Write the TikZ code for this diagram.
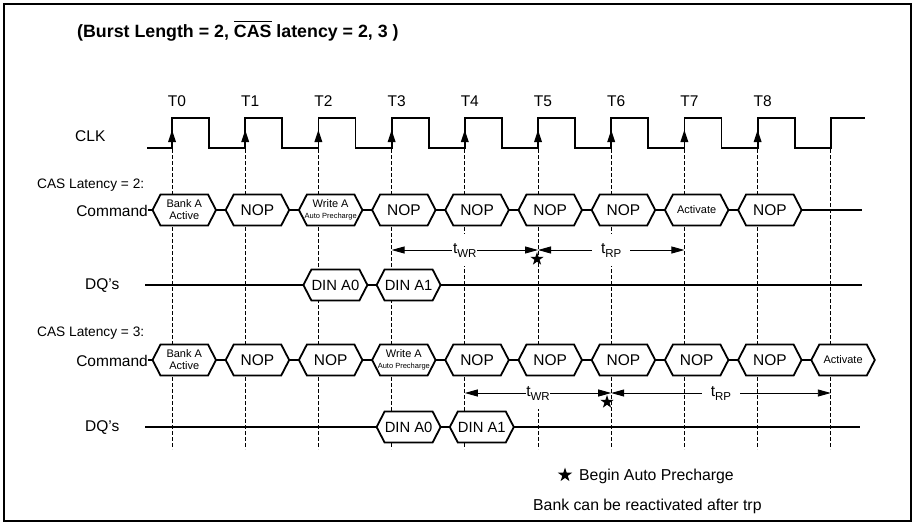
\documentclass[tikz,border=0pt]{standalone}
\usepackage{fontspec}
\setmainfont{Liberation Sans}
\usetikzlibrary{arrows.meta,shapes.geometric}
\newcommand\hexbox[6]{%
  \draw[sig,fill=white] (#2,#4) -- ({#2+8},{#4-15.5}) -- ({#3-8},{#4-15.5}) -- (#3,#4) -- ({#3-8},{#4+15.5}) -- ({#2+8},{#4+15.5}) -- cycle;
  \node[#5] (#1) at ({(#2+#3)/2},#4) {#6};
  \coordinate (#1-w) at (#2,#4);
  \coordinate (#1-e) at (#3,#4);
}
\newcommand\ovlbar[1]{\setbox0\hbox{#1}\rlap{\rule[\dimexpr\ht0+3.2pt\relax]{\wd0}{1.3pt}}\box0\relax}
\begin{document}
\begin{tikzpicture}[x=1pt,y=-1pt,
  sig/.style={line width=1.8pt, line join=miter},
  gridline/.style={line width=0.8pt, dash pattern=on 3.5pt off 2.5pt},
  dimline/.style={line width=0.9pt, {Triangle[length=13pt,width=7pt]}-{Triangle[length=13pt,width=7pt]}},
  lbl/.style={font=\fontsize{15.5}{18}\selectfont, inner sep=0pt},
  leg/.style={font=\fontsize{15.8}{18}\selectfont, inner sep=0pt},
  mid/.style={font=\fontsize{13.7}{16}\selectfont, inner sep=0pt},
  bx/.style={font=\fontsize{15.5}{18}\selectfont, inner sep=0pt},
  din/.style={font=\fontsize{14.8}{18}\selectfont, inner sep=0pt},
  bxs/.style={font=\fontsize{11}{12}\selectfont, inner sep=0pt, align=center},
  tlab/.style={font=\fontsize{15.5}{18}\selectfont, fill=white, inner ysep=9pt},
  starmark/.style={star, star points=5, star point ratio=2.6, fill=black, minimum size=14pt, inner sep=0pt},
]
\useasboundingbox (0,0) rectangle (917,525);
\draw[line width=1.6pt] (4,4) rectangle (911,521);

% title
\node[font=\bfseries\fontsize{17.8}{20}\selectfont, anchor=base west, inner sep=0pt] (title) at (77,37.5)
  {(Burst Length = 2, \ovlbar{CAS} latency = 2, 3 )};

% dashed clock reference lines
\foreach \i in {0,...,9}
  \draw[gridline] ({172+73.2*\i},149) -- ({172+73.2*\i},449);

% clock
\node[lbl, anchor=west] (clk) at (75,136) {CLK};
\draw[sig] (147,148) foreach \i in {0,...,8} { -- ({172+73.2*\i},148) -- ({172+73.2*\i},118) -- ({209+73.2*\i},118) -- ({209+73.2*\i},148) } -- (830.8,148) -- (830.8,118) -- (865,118);
\foreach \i in {0,...,8} {
  \fill ({172+73.2*\i},130) -- ++(-4,12) -- ++(8,0) -- cycle;
  \node[lbl] (T\i) at ({177+73.2*\i},101) {T\i};
}

% ---------- CAS latency = 2 ----------
\node[mid, anchor=west] (cas2) at (37,185) {CAS Latency = 2:};
\node[lbl, anchor=east] (cmd1) at (148,211) {Command};
\hexbox{p0}{152.5}{216.0}{210}{bxs}{Bank A\\Active}
\hexbox{p1}{225.7}{289.2}{210}{bx}{NOP}
\hexbox{p2}{298.9}{362.4}{210}{bxs}{Write A\\[-1pt]{\fontsize{7.5}{8}\selectfont Auto Precharge}}
\hexbox{p3}{372.1}{435.6}{210}{bx}{NOP}
\hexbox{p4}{445.3}{508.8}{210}{bx}{NOP}
\hexbox{p5}{518.5}{582.0}{210}{bx}{NOP}
\hexbox{p6}{591.7}{655.2}{210}{bx}{NOP}
\hexbox{p7}{664.9}{728.4}{210}{bxs}{Activate}
\hexbox{p8}{738.1}{801.6}{210}{bx}{NOP}
\coordinate (p-end) at (862,210);
\draw[sig] (p0-w -| cmd1.east) -- (p0-w);
\foreach \a/\b in {p0/p1,p1/p2,p2/p3,p3/p4,p4/p5,p5/p6,p6/p7,p7/p8}
  \draw[sig] (\a-e) -- (\b-w);
\draw[sig] (p8-e) -- (p-end);

\node[lbl, anchor=west] (dq1) at (85,286) {DQ’s};
\coordinate (dq1-start) at (145,285);
\coordinate (dq1-end) at (862,285);
\hexbox{da0}{303.4}{367.4}{285}{din}{DIN A0}
\hexbox{da1}{376.6}{440.6}{285}{din}{DIN A1}
\draw[sig] (dq1-start) -- (da0-w);
\draw[sig] (da0-e) -- (da1-w);
\draw[sig] (da1-e) -- (dq1-end);

\coordinate (wr1a) at (391.6,250);
\coordinate (wr1b) at (538,250);
\coordinate (rp1b) at (684.4,250);
\draw[dimline] (wr1a) -- (wr1b);
\draw[dimline] (wr1b) -- (rp1b);
\node[tlab, inner xsep=0.6pt] (twr1) at (464.8,250) {t\raisebox{-4pt}{\fontsize{11.5}{12}\selectfont WR}};
\node[tlab, inner xsep=9pt] (trp1) at (611.2,250) {t\raisebox{-4pt}{\fontsize{11.5}{12}\selectfont RP}};
\node[starmark] (star1) at (537,259) {};

% ---------- CAS latency = 3 ----------
\node[mid, anchor=west] (cas3) at (37,333) {CAS Latency = 3:};
\node[lbl, anchor=east] (cmd2) at (148,361) {Command};
\hexbox{q0}{152.5}{216.0}{360}{bxs}{Bank A\\Active}
\hexbox{q1}{225.7}{289.2}{360}{bx}{NOP}
\hexbox{q2}{298.9}{362.4}{360}{bx}{NOP}
\hexbox{q3}{372.1}{435.6}{360}{bxs}{Write A\\[-1pt]{\fontsize{7.5}{8}\selectfont Auto Precharge}}
\hexbox{q4}{445.3}{508.8}{360}{bx}{NOP}
\hexbox{q5}{518.5}{582.0}{360}{bx}{NOP}
\hexbox{q6}{591.7}{655.2}{360}{bx}{NOP}
\hexbox{q7}{664.9}{728.4}{360}{bx}{NOP}
\hexbox{q8}{738.1}{801.6}{360}{bx}{NOP}
\hexbox{q9}{811.3}{874.8}{360}{bxs}{Activate}
\draw[sig] (q0-w -| cmd2.east) -- (q0-w);
\foreach \a/\b in {q0/q1,q1/q2,q2/q3,q3/q4,q4/q5,q5/q6,q6/q7,q7/q8,q8/q9}
  \draw[sig] (\a-e) -- (\b-w);

\node[lbl, anchor=west] (dq2) at (85,428) {DQ’s};
\coordinate (dq2-start) at (145,427);
\coordinate (dq2-end) at (860,427);
\hexbox{db0}{376.6}{440.6}{427}{din}{DIN A0}
\hexbox{db1}{449.8}{513.8}{427}{din}{DIN A1}
\draw[sig] (dq2-start) -- (db0-w);
\draw[sig] (db0-e) -- (db1-w);
\draw[sig] (db1-e) -- (dq2-end);

\coordinate (wr2a) at (464.8,393);
\coordinate (wr2b) at (611.2,393);
\coordinate (rp2b) at (830.8,393);
\draw[dimline] (wr2a) -- (wr2b);
\draw[dimline] (wr2b) -- (rp2b);
\node[tlab, inner xsep=0.6pt] (twr2) at (538,393) {t\raisebox{-4pt}{\fontsize{11.5}{12}\selectfont WR}};
\node[tlab, inner xsep=9pt] (trp2) at (721,393) {t\raisebox{-4pt}{\fontsize{11.5}{12}\selectfont RP}};
\node[starmark] (star2) at (607,402) {};

% legend
\node[starmark, minimum size=15pt] (lstar) at (565,475) {};
\node[leg, anchor=west] (leg1) at (579,476) {Begin Auto Precharge};
\node[leg, anchor=west] (leg2) at (533,506) {Bank can be reactivated after trp};
\end{tikzpicture}
\end{document}
